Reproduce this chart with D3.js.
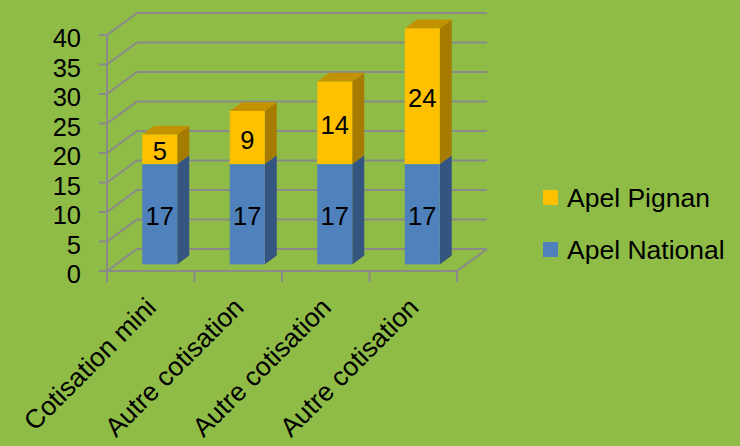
<!DOCTYPE html>
<html>
<head>
<meta charset="utf-8">
<script src="https://cdn.jsdelivr.net/npm/d3@7"></script>
<style>
  html, body { margin: 0; padding: 0; background: #8fbc46; }
  svg { display: block; }
  text { font-family: "Liberation Sans", Arial, sans-serif; fill: #000; }
</style>
</head>
<body>
<svg id="chart" width="740" height="446"></svg>
<script>
// ---- data ----
const categories = ["Cotisation mini", "Autre cotisation", "Autre cotisation", "Autre cotisation"];
const apelNational = [17, 17, 17, 17];
const apelPignan = [5, 9, 14, 24];
const yTicks = [0, 5, 10, 15, 20, 25, 30, 35, 40];
const seriesNames = ["Apel Pignan", "Apel National"];

// ---- layout / style ----
const W = 740, H = 446;
const bg = "#8fbc46";
const gridColor = "#8a8a8a";
const colors = {
  national: { front: "#4f81bd", side: "#34557f", top: "#3d6597" },
  pignan:   { front: "#ffc000", side: "#a67c00", top: "#c39200" }
};
const depth = { dx: 30, dy: -22 };   // full floor depth offset
const barFront = 0.3, barBack = 0.7; // bar position inside the depth
const fontSize = 25.5;
const catFontSize = 26.5;

const svg = d3.select("#chart");
svg.append("rect").attr("width", W).attr("height", H).attr("fill", bg);

const x = d3.scaleBand().domain(d3.range(categories.length))
  .range([107, 457]).paddingInner(0.6).paddingOuter(0.3);
const xEdges = d3.scaleLinear().domain([0, categories.length]).range([107, 457]);
const y = d3.scaleLinear().domain([0, 40]).range([271, 35]);
const yMax = y.domain()[1];

// ---- gridlines (side wall + back wall) ----
const grid = svg.append("g").attr("fill", "none").attr("stroke", gridColor).attr("stroke-width", 2);
yTicks.forEach(t => {
  const yy = y(t);
  grid.append("path")
    .attr("d", `M${xEdges(0)},${yy} L${xEdges(0) + depth.dx},${yy + depth.dy} L${xEdges(categories.length) + depth.dx},${yy + depth.dy}`);
  grid.append("line").attr("x1", xEdges(0) - 8).attr("x2", xEdges(0)).attr("y1", yy).attr("y2", yy);
});
grid.append("line")
  .attr("x1", xEdges(categories.length)).attr("y1", y(0))
  .attr("x2", xEdges(categories.length) + depth.dx).attr("y2", y(0) + depth.dy);

// ---- bars ----
const stackData = categories.map((c, i) => ({
  i,
  segs: [
    { key: "national", v0: 0, v1: apelNational[i], label: apelNational[i] },
    { key: "pignan", v0: apelNational[i], v1: apelNational[i] + apelPignan[i], label: apelPignan[i] }
  ]
}));

const fdx = depth.dx * barFront, fdy = depth.dy * barFront;
const bdx = depth.dx * barBack, bdy = depth.dy * barBack;
const bw = x.bandwidth();

const bars = svg.append("g");
stackData.forEach(d => {
  const xb = x(d.i);
  const nSeg = d.segs.length;
  d.segs.forEach((s, k) => {
    const v0 = Math.min(s.v0, yMax), v1 = Math.min(s.v1, yMax);
    const y0 = y(v0), y1 = y(v1);
    const c = colors[s.key];
    const fx = xb + fdx;
    bars.append("path").attr("fill", c.side)
      .attr("d", `M${fx + bw},${y1 + fdy} L${xb + bdx + bw},${y1 + bdy} L${xb + bdx + bw},${y0 + bdy} L${fx + bw},${y0 + fdy} Z`);
    if (k === nSeg - 1) {
      bars.append("path").attr("fill", c.top)
        .attr("d", `M${fx},${y1 + fdy} L${xb + bdx},${y1 + bdy} L${xb + bdx + bw},${y1 + bdy} L${fx + bw},${y1 + fdy} Z`);
    }
    bars.append("rect").attr("fill", c.front)
      .attr("x", fx).attr("y", y1 + fdy).attr("width", bw).attr("height", y0 - y1);
    bars.append("text")
      .attr("x", fx + bw / 2).attr("y", (y0 + y1) / 2 + fdy + 11)
      .attr("text-anchor", "middle").attr("font-size", fontSize)
      .text(s.label);
  });
});

// ---- front axes ----
const axes = svg.append("g").attr("fill", "none").attr("stroke", gridColor).attr("stroke-width", 2);
axes.append("line").attr("x1", xEdges(0)).attr("x2", xEdges(0)).attr("y1", y(40)).attr("y2", y(0));
axes.append("line").attr("x1", xEdges(0)).attr("x2", xEdges(categories.length)).attr("y1", y(0)).attr("y2", y(0));
d3.range(categories.length + 1).forEach(i => {
  axes.append("line").attr("x1", xEdges(i)).attr("x2", xEdges(i)).attr("y1", y(0)).attr("y2", y(0) + 11);
});

// y tick labels
svg.append("g").selectAll("text").data(yTicks).join("text")
  .attr("x", 81).attr("y", d => y(d) + 12)
  .attr("text-anchor", "end").attr("font-size", fontSize)
  .text(d => d);

// x category labels
svg.append("g").selectAll("text").data(categories).join("text")
  .attr("text-anchor", "end").attr("font-size", catFontSize)
  .attr("transform", (d, i) => `translate(${xEdges(i + 0.5) + 7},${309}) rotate(-45)`)
  .text(d => d);

// ---- legend ----
const legend = svg.append("g");
const legendColors = [colors.pignan.front, colors.national.front];
seriesNames.forEach((name, i) => {
  const ly = 190 + i * 52;
  legend.append("rect").attr("x", 543).attr("y", ly).attr("width", 15).attr("height", 15).attr("fill", legendColors[i]);
  legend.append("text").attr("x", 567).attr("y", ly + 17).attr("font-size", catFontSize).text(name);
});
</script>
</body>
</html>
